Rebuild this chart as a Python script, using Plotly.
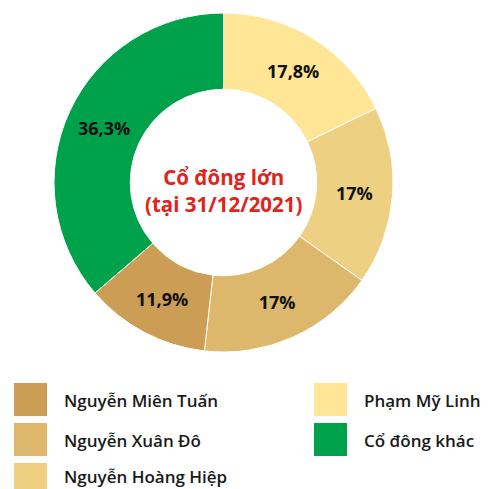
import plotly.graph_objects as go

# Data
labels = ["Phạm Mỹ Linh", "Nguyễn Hoàng Hiệp", "Nguyễn Xuân Đô", "Nguyễn Miên Tuấn", "Cổ đông khác"]
values = [17.8, 17, 17, 11.9, 36.3]
colors = ["#FFE596", "#EDD082", "#DDB86C", "#CC9D55", "#00A14B"]
legend_order = ["Nguyễn Miên Tuấn", "Nguyễn Xuân Đô", "Nguyễn Hoàng Hiệp", "Phạm Mỹ Linh", "Cổ đông khác"]
center_title = "Cổ đông lớn<br>(tại 31/12/2021)"

OFF = 8  # browser body margin
W, H = 493 - OFF, 489 - OFF
text_labels = [f"{v:g}".replace(".", ",") + "%" for v in values]


def px(x):
    return (x - OFF) / W


def py(y):
    return 1 - (y - OFF) / H


fig = go.Figure()
fig.add_trace(go.Pie(
    labels=labels,
    values=values,
    text=text_labels,
    textinfo="text",
    textposition="inside",
    insidetextorientation="horizontal",
    textfont=dict(family="Open Sans", size=18, color="#111111", weight="bold"),
    marker=dict(colors=colors, line=dict(color="#FFFFFF", width=1)),
    hole=0.55,
    sort=False,
    direction="clockwise",
    rotation=0,
    showlegend=False,
    domain=dict(x=[px(54), px(393)], y=[py(353), py(12)]),
    hoverinfo="label+text",
))

fig.add_annotation(
    x=px((54 + 393) / 2), y=py(190), xref="paper", yref="paper",
    text=center_title, showarrow=False,
    font=dict(family="Open Sans", size=20.5, color="#E2231A", weight="bold"),
    align="center",
)

# Legend drawn as swatches + text, two columns
color_of = dict(zip(labels, colors))
col_x = [14, 314]
row_top = [383, 423, 463]
sw = 33
for i, name in enumerate(legend_order):
    col = 0 if i < 3 else 1
    row = i if i < 3 else i - 3
    x0 = col_x[col]
    y0 = row_top[row]
    fig.add_shape(type="rect", xref="paper", yref="paper",
                  x0=px(x0), x1=px(x0 + sw), y0=py(y0), y1=py(y0 + sw),
                  fillcolor=color_of[name], line=dict(width=0))
    fig.add_annotation(x=px(x0 + sw + 15), y=py(min(y0 + sw / 2 + 1, 476)),
                       xref="paper", yref="paper", xanchor="left", yanchor="middle",
                       text=name, showarrow=False,
                       font=dict(family="Open Sans", size=17, color="#1A1A1A", weight=600))

fig.update_layout(
    width=W, height=H,
    margin=dict(l=0, r=0, t=0, b=0),
    paper_bgcolor="white", plot_bgcolor="white",
)

fig.write_html("out.html")
